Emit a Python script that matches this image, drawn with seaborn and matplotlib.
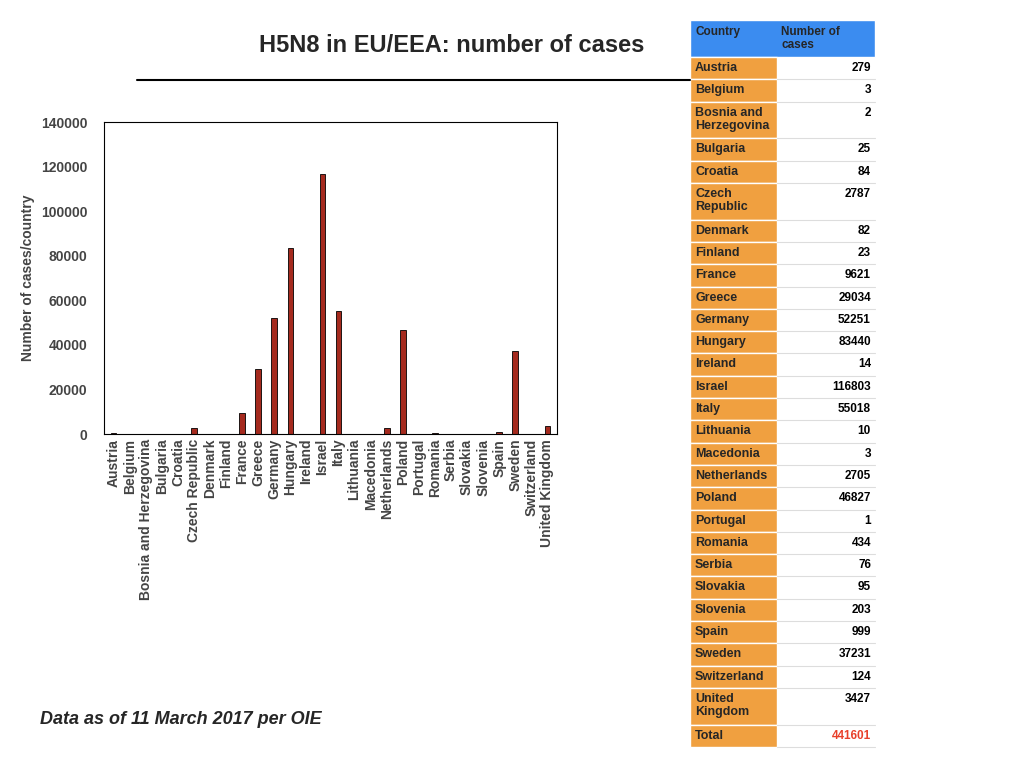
import matplotlib
matplotlib.use('Agg')
import matplotlib.pyplot as plt
import seaborn as sns
import pandas as pd
from matplotlib.patches import Rectangle
from matplotlib.lines import Line2D

countries = ['Austria', 'Belgium', 'Bosnia and Herzegovina', 'Bulgaria', 'Croatia', 'Czech Republic',
             'Denmark', 'Finland', 'France', 'Greece', 'Germany', 'Hungary', 'Ireland', 'Israel',
             'Italy', 'Lithuania', 'Macedonia', 'Netherlands', 'Poland', 'Portugal', 'Romania',
             'Serbia', 'Slovakia', 'Slovenia', 'Spain', 'Sweden', 'Switzerland', 'United Kingdom']
table_names = ['Austria', 'Belgium', 'Bosnia and\nHerzegovina', 'Bulgaria', 'Croatia', 'Czech\nRepublic',
               'Denmark', 'Finland', 'France', 'Greece', 'Germany', 'Hungary', 'Ireland', 'Israel',
               'Italy', 'Lithuania', 'Macedonia', 'Netherlands', 'Poland', 'Portugal', 'Romania',
               'Serbia', 'Slovakia', 'Slovenia', 'Spain', 'Sweden', 'Switzerland', 'United\nKingdom']
cases = [279, 3, 2, 25, 84, 2787, 82, 23, 9621, 29034, 52251, 83440, 14, 116803,
         55018, 10, 3, 2705, 46827, 1, 434, 76, 95, 203, 999, 37231, 124, 3427]
total = 441601

sns.set_style('white')
plt.rcParams['font.family'] = ['Liberation Sans', 'DejaVu Sans']

W, H = 1024, 768
fig = plt.figure(figsize=(10.24, 7.68), dpi=100)
ax = fig.add_axes([104 / W, 1 - 434 / H, (557 - 104) / W, (434 - 122) / H])

df = pd.DataFrame({'country': countries, 'cases': cases})
sns.barplot(x='country', y='cases', data=df, color='#a52a1e', edgecolor='black',
            linewidth=0.6, width=0.35, ax=ax, saturation=1)
ax.set_ylim(0, 140000)
ax.set_yticks(range(0, 140001, 20000))
ax.set_xlabel('')
ax.set_ylabel('Number of cases/country', fontsize=10, fontweight='bold', color='#444444')
for s in ax.spines.values():
    s.set_color('black')
    s.set_linewidth(0.8)
ax.tick_params(axis='x', labelrotation=90, labelsize=10, colors='#444444', length=0)
ax.tick_params(axis='y', labelsize=10, colors='#444444', length=0, pad=12)
for t in ax.get_xticklabels() + ax.get_yticklabels():
    t.set_fontweight('bold')
ax.set_xlim(-0.6, len(countries) - 0.4)

# title, rule and footnote
fig.text(452 / W, 1 - 46 / H, 'H5N8 in EU/EEA: number of cases', ha='center', va='center',
         fontsize=17, fontweight='bold')
fig.add_artist(Line2D([137 / W, 690 / W], [1 - 80 / H, 1 - 80 / H], color='black', linewidth=1.5))
fig.text(40 / W, 1 - 720 / H, 'Data as of 11 March 2017 per OIE', ha='left', va='center',
         fontsize=13, fontweight='bold', fontstyle='italic')

# table
x0, x1, x2 = 690, 777, 875
def rect(x, y, w, h, fc):
    fig.add_artist(Rectangle((x / W, 1 - (y + h) / H), w / W, h / H, facecolor=fc,
                             edgecolor='white', linewidth=1, transform=fig.transFigure))

rect(x0, 20, x2 - x0, 37, '#3b8cf0')
fig.text((x0 + 5) / W, 1 - 26 / H, 'Country', fontsize=8.5, fontweight='bold', va='top')
fig.text((x1 + 4) / W, 1 - 26 / H, 'Number of\ncases', fontsize=8.5, fontweight='bold', va='top',
         linespacing=1.1)
y = 57
rows = list(zip(table_names, cases)) + [('Total', total)]
for name, val in rows:
    h = 36.7 if '\n' in name else 22.3
    rect(x0, y, x1 - x0, h, '#f0a040')
    fig.add_artist(Line2D([x1 / W, x2 / W], [1 - (y + h) / H] * 2, color='#dddddd', linewidth=0.8))
    fig.text((x0 + 5) / W, 1 - (y + 5) / H, name, fontsize=9, fontweight='bold', va='top',
             linespacing=1.1)
    fig.text((x2 - 4) / W, 1 - (y + 5) / H, str(val), fontsize=8.5, fontweight='bold', va='top',
             ha='right', color='#e8402a' if name == 'Total' else 'black')
    y += h

plt.savefig('out.png', dpi=100)
